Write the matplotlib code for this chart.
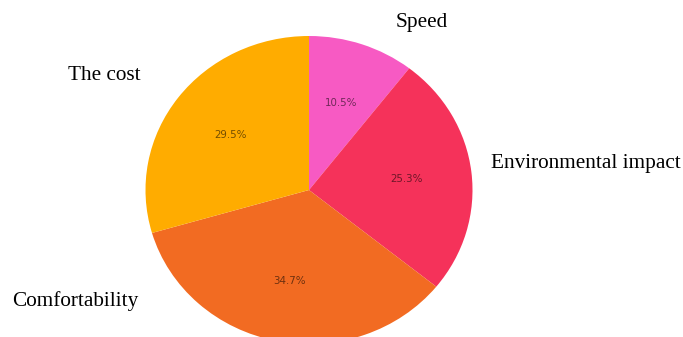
import matplotlib.pyplot as plt

# survey shares for what matters most when choosing transport
labels = ['Speed', 'Environmental impact', 'Comfortability', 'The cost']
shares = [10.5, 25.3, 34.7, 29.5]
colors = ['#F75AC3', '#F5325A', '#F26B22', '#FFAC00']

W, H = 683, 337
fig = plt.figure(figsize=(W / 100, H / 100), dpi=100)

# pie sits a little off-centre and runs off the bottom edge
cx, cy, rx, ry = 309, 190, 163.5, 154
ax = fig.add_axes([(cx - rx) / W, (H - cy - ry) / H, 2 * rx / W, 2 * ry / H])
wedges, texts, autotexts = ax.pie(shares, colors=colors, startangle=90, counterclock=False,
                                  autopct='%1.1f%%', pctdistance=0.6,
                                  textprops={'fontsize': 7.4, 'color': 'black', 'alpha': 0.55})
ax.set_aspect('auto')
ax.set_xlim(-1, 1)
ax.set_ylim(-1, 1)

# category names written beside the pie in a serif face
label_pos = {'Speed': (422, 22, 'center'),
             'Environmental impact': (491, 164, 'left'),
             'Comfortability': (12, 301, 'left'),
             'The cost': (104, 75, 'center')}
for name in labels:
    x, y, ha = label_pos[name]
    fig.text(x / W, 1 - y / H, name, ha=ha, va='center',
             family='Liberation Serif', fontsize=15.3, color='black')

fig.savefig('out.png', dpi=100)
